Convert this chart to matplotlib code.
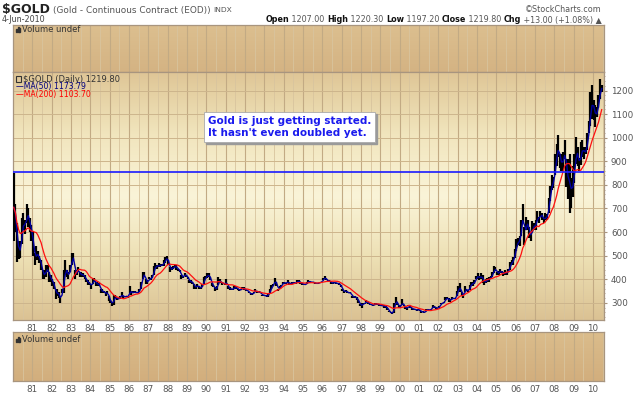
import numpy as np
import pandas as pd
import matplotlib
matplotlib.use('Agg')
import matplotlib.pyplot as plt
from matplotlib.colors import LinearSegmentedColormap
from matplotlib.patches import Rectangle

# monthly low / high of gold, Jan 1980 .. Jun 2010
monthly_low = [
    560, 600, 474, 485, 490, 550, 610, 590, 640, 620, 600, 560,   # 1980
    500, 460, 480, 480, 470, 440, 400, 400, 410, 430, 390, 390,   # 1981
    370, 360, 315, 330, 320, 297, 340, 340, 420, 410, 400, 430,   # 1982
    460, 480, 400, 420, 430, 410, 410, 410, 400, 390, 375, 375,   # 1983
    360, 380, 390, 370, 370, 370, 340, 340, 340, 330, 340, 308,   # 1984
    300, 285, 290, 320, 310, 315, 315, 330, 315, 325, 325, 320,   # 1985
    340, 335, 340, 340, 340, 340, 345, 360, 400, 410, 380, 380,   # 1986
    400, 395, 405, 420, 450, 445, 450, 450, 455, 455, 470, 480,   # 1987
    460, 430, 440, 445, 450, 440, 435, 430, 400, 405, 415, 410,   # 1988
    400, 385, 385, 380, 360, 360, 370, 360, 360, 365, 380, 400,   # 1989
    405, 410, 395, 370, 365, 350, 355, 375, 385, 375, 380, 375,   # 1990
    375, 360, 355, 355, 355, 360, 360, 355, 350, 355, 360, 355,   # 1991
    350, 350, 340, 335, 335, 340, 350, 340, 345, 340, 330, 330,   # 1992
    327, 325, 325, 340, 360, 370, 385, 370, 350, 360, 370, 380,   # 1993
    380, 380, 385, 375, 380, 380, 380, 380, 390, 385, 380, 375,   # 1994
    375, 375, 380, 390, 385, 385, 385, 380, 380, 380, 385, 385,   # 1995
    395, 400, 395, 390, 390, 380, 380, 385, 380, 380, 375, 365,   # 1996
    350, 340, 350, 340, 340, 340, 320, 320, 320, 310, 300, 285,   # 1997
    280, 295, 295, 305, 295, 290, 290, 285, 290, 290, 290, 285,   # 1998
    285, 285, 280, 280, 270, 260, 255, 252, 255, 300, 290, 280,   # 1999
    280, 290, 285, 275, 270, 285, 280, 270, 270, 270, 265, 270,   # 2000
    265, 255, 260, 255, 265, 270, 265, 270, 280, 280, 275, 275,   # 2001
    280, 295, 295, 300, 310, 315, 305, 305, 315, 315, 315, 330,   # 2002
    350, 345, 330, 320, 345, 350, 345, 355, 375, 370, 380, 400,   # 2003
    400, 395, 400, 385, 375, 385, 390, 390, 400, 410, 425, 435,   # 2004
    420, 420, 425, 425, 415, 420, 420, 430, 440, 465, 460, 490,   # 2005
    520, 545, 540, 585, 640, 545, 610, 610, 575, 560, 600, 610,   # 2006
    610, 650, 640, 665, 650, 640, 650, 650, 680, 730, 780, 785,   # 2007
    840, 880, 920, 870, 860, 860, 910, 790, 740, 680, 700, 750,   # 2008
    810, 890, 880, 860, 885, 920, 910, 930, 950, 1020, 1050, 1080,  # 2009
    1075, 1045, 1090, 1125, 1165, 1195,                            # 2010
]
monthly_high = [
    850, 720, 640, 560, 560, 660, 680, 650, 720, 700, 660, 630,
    600, 510, 540, 520, 500, 480, 440, 440, 460, 460, 430, 420,
    400, 390, 360, 360, 345, 330, 360, 440, 480, 440, 430, 460,
    510, 510, 440, 440, 450, 430, 430, 425, 420, 400, 395, 390,
    380, 400, 405, 390, 390, 385, 360, 360, 350, 345, 350, 330,
    310, 305, 335, 335, 320, 320, 330, 345, 330, 330, 330, 330,
    370, 345, 350, 350, 345, 345, 360, 390, 430, 430, 400, 395,
    410, 405, 420, 455, 470, 460, 470, 465, 465, 480, 495, 500,
    480, 450, 450, 455, 460, 460, 445, 440, 420, 415, 425, 420,
    410, 395, 395, 390, 380, 370, 380, 370, 365, 380, 410, 415,
    425, 425, 410, 385, 375, 365, 370, 410, 400, 390, 385, 385,
    400, 370, 365, 360, 360, 370, 370, 360, 355, 360, 365, 365,
    355, 355, 345, 340, 340, 345, 360, 345, 350, 345, 335, 335,
    332, 332, 340, 360, 375, 380, 405, 390, 360, 370, 375, 390,
    390, 385, 395, 385, 385, 390, 390, 385, 395, 395, 390, 385,
    380, 380, 390, 395, 390, 390, 390, 385, 385, 385, 390, 390,
    405, 415, 400, 395, 395, 390, 385, 390, 385, 385, 385, 375,
    360, 350, 355, 345, 345, 345, 330, 330, 330, 325, 310, 295,
    300, 300, 300, 310, 300, 295, 295, 290, 300, 300, 295, 295,
    290, 290, 290, 285, 280, 265, 260, 258, 300, 325, 300, 290,
    290, 315, 290, 285, 280, 290, 285, 280, 275, 275, 270, 275,
    270, 265, 265, 260, 275, 275, 270, 275, 290, 285, 280, 280,
    285, 300, 300, 305, 325, 325, 320, 315, 325, 320, 320, 350,
    370, 385, 345, 335, 370, 360, 355, 375, 390, 390, 395, 415,
    425, 415, 425, 420, 395, 400, 405, 410, 415, 430, 455, 450,
    430, 435, 445, 435, 430, 440, 430, 445, 475, 480, 495, 530,
    570, 575, 585, 650, 720, 620, 665, 650, 620, 600, 645, 640,
    650, 690, 665, 690, 680, 660, 680, 675, 745, 795, 840, 835,
    930, 975, 1010, 930, 930, 940, 990, 910, 910, 930, 830, 880,
    930, 1005, 960, 915, 980, 990, 960, 960, 1020, 1070, 1195, 1225,
    1160, 1140, 1130, 1180, 1250, 1225,
]
years = list(range(1981, 2011))
price_ticks = list(range(300, 1300, 100))
ref_level = 855

dates = pd.date_range('1980-01-01', periods=len(monthly_low), freq='MS') + pd.Timedelta(days=14)
t = dates.year + (dates.dayofyear - 1) / 365.25
mid = (pd.Series(monthly_low) + pd.Series(monthly_high)) / 2
ma50 = mid.rolling(2, min_periods=1).mean()
ma200 = mid.rolling(10, min_periods=1).mean()

W, H = 640, 396
fig = plt.figure(figsize=(6.4, 3.96), dpi=100)
fig.patch.set_facecolor('white')
r = fig.canvas.get_renderer()
narrow = ['Liberation Sans Narrow', 'DejaVu Sans']


def px(x, y):
    return x / W, 1 - y / H


def panel(top, bottom, stops):
    ax = fig.add_axes([13 / W, 1 - bottom / H, 591 / W, (bottom - top) / H])
    cmap = LinearSegmentedColormap.from_list('bg', stops)
    ax.imshow(np.linspace(0, 1, 256).reshape(-1, 1), cmap=cmap, aspect='auto',
              origin='lower', extent=[0, 1, 0, 1], transform=ax.transAxes, zorder=0)
    ax.set_xlim(1980.0, 2010.57)
    ax.set_xticks(years)
    ax.set_xticks([y - 0.5 for y in years] + [2010.5], minor=True)
    ax.grid(which='major', axis='x', color='#c2aa84', lw=0.8, zorder=1)
    ax.grid(which='minor', axis='x', color='#d8c49e', lw=0.6, zorder=1)
    ax.tick_params(axis='x', which='both', length=0, labelsize=6.3, labelcolor='#555555', pad=3)
    for s in ax.spines.values():
        s.set_color('#a8957f')
        s.set_linewidth(0.9)
    return ax


vol_top = panel(25, 72, ['#d4b383', '#dcbf8f'])
vol_top.set_ylim(0, 1)
vol_top.set_yticks([])
vol_top.set_xticklabels([])

vol_bot = panel(332, 381, ['#d2ae7d', '#dbbd8c'])
vol_bot.set_ylim(0, 1)
vol_bot.set_yticks([])
vol_bot.set_xticklabels(['%02d' % (y % 100) for y in years])

ax = panel(72, 320, ['#dbc293', '#ede0b4', '#faf4d8', '#f1e5bd', '#dfc696'])
ax.set_ylim(227, 1279)
ax.set_xticklabels(['%02d' % (y % 100) for y in years])
ax.yaxis.tick_right()
ax.set_yticks(price_ticks)
ax.set_yticks(range(240, 1280, 20), minor=True)
ax.yaxis.set_ticklabels([str(p) for p in price_ticks])
ax.tick_params(axis='y', which='major', length=2, color='#a8957f', labelsize=6.3,
               labelcolor='#555555', pad=3)
ax.tick_params(axis='y', which='minor', length=1, color='#a8957f')
ax.grid(which='major', axis='y', color='#cdb58c', lw=0.7, zorder=1)

ax.vlines(t, monthly_low, monthly_high, color='black', lw=1.6, zorder=3)
ax.plot(t, ma50, color='#0000a0', lw=1.0, zorder=4)
ax.plot(t, ma200, color='#ff1010', lw=0.9, zorder=5)
ax.axhline(ref_level, color='#1a1aff', lw=1.2, zorder=6)

# header, left part laid out piece by piece
xpos = 2
for txt, size, bold, col, gap in [('$GOLD', 9, True, '#222222', 3),
                                  ('(Gold - Continuous Contract (EOD))', 6.4, False, '#555555', 3),
                                  ('INDX', 5.4, False, '#555555', 0)]:
    tt = fig.text(*px(xpos, 10), txt, fontsize=size, family=narrow if bold else None,
                  fontweight='bold' if bold else 'normal', color=col, va='center')
    xpos += tt.get_window_extent(r).width + gap

fig.text(*px(2, 20), '4-Jun-2010', fontsize=5.8, color='#444444', va='center')
fig.text(*px(602, 9), '\u00a9StockCharts.com', fontsize=5.8, color='#555555', va='center', ha='right')

parts = [('Open', True), (' 1207.00 ', False), ('High', True), (' 1220.30 ', False),
         ('Low', True), (' 1197.20 ', False), ('Close', True), (' 1219.80 ', False),
         ('Chg', True), (' +13.00 (+1.08%) \u25b2', False)]
xpos = 602
for txt, bold in reversed(parts):
    tt = fig.text(*px(xpos, 20), txt, fontsize=5.8, va='center', ha='right',
                  fontweight='bold' if bold else 'normal',
                  color='#111111' if bold else '#555555')
    xpos -= tt.get_window_extent(r).width

# panel labels
for yy in (29, 339):
    for i, hgt in enumerate((3, 5, 4)):
        fig.add_artist(Rectangle(px(16 + i * 1.6, yy + 3), 1.1 / W, hgt / H,
                                 transform=fig.transFigure, color='#333333'))
    fig.text(*px(22, yy), 'Volume undef', fontsize=6, color='#333333', va='center')

fig.add_artist(Rectangle(px(16, 82), 5 / W, 6 / H, transform=fig.transFigure,
                         fc='none', ec='#333333', lw=0.8))
fig.text(*px(23, 79), '$GOLD (Daily) 1219.80', fontsize=6, color='#333333', va='center')
fig.text(*px(16, 87), '\u2014MA(50) 1173.79', fontsize=5.6, color='#000080', va='center')
fig.text(*px(16, 95), '\u2014MA(200) 1103.70', fontsize=5.6, color='#ff0000', va='center')

# note box with a grey drop shadow
note = "Gold is just getting started.\nIt hasn't even doubled yet."
nt = fig.text(*px(208, 127), note, fontsize=7.5, fontweight='bold', color='#1a1aee',
              va='center', linespacing=1.35, zorder=5,
              bbox=dict(boxstyle='square,pad=0.35', fc='white', ec='#aaaaaa', lw=0.6))
fig.canvas.draw()
bb = nt.get_bbox_patch().get_window_extent(r)
fig.add_artist(Rectangle(((bb.x0 + 2) / W, (bb.y0 - 2) / H), bb.width / W, bb.height / H,
                         transform=fig.transFigure, color='#9a9a9a', zorder=4))

fig.savefig('out.png', dpi=100)
